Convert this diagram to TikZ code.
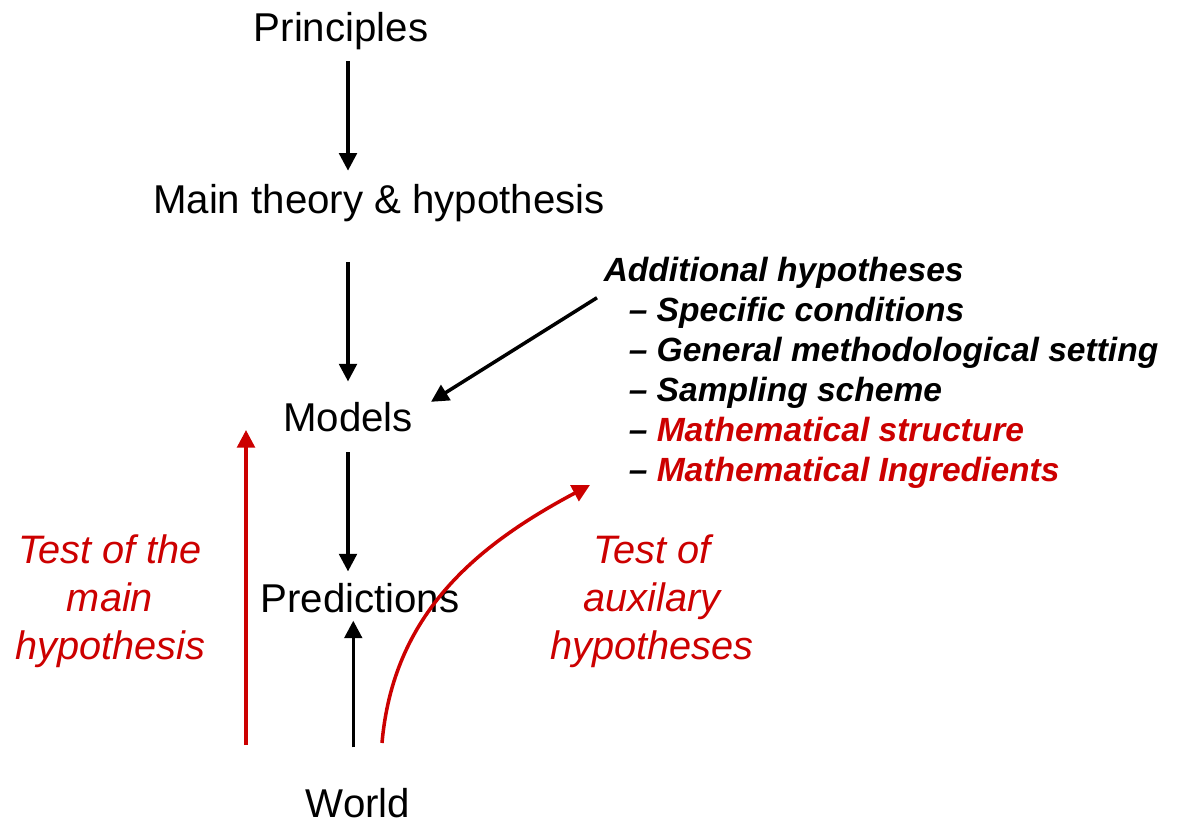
\documentclass[tikz,border=0pt]{standalone}
\usepackage{fontspec}
\setmainfont{Liberation Sans}
\usetikzlibrary{arrows.meta}
\definecolor{testred}{RGB}{204,0,0}
\tikzset{>/.tip={Triangle[length=10pt,width=10pt]}}

\begin{document}
\begin{tikzpicture}[x=0.02cm,y=-0.02cm,line width=2pt,
  every node/.style={inner sep=0pt},
  big/.style={font=\fontsize{22.9}{27}\selectfont,anchor=base},
  hyp/.style={font=\fontsize{19.1}{23}\selectfont\bfseries\itshape,anchor=base west},
  testlbl/.style={font=\fontsize{22.6}{27.3}\selectfont\itshape,text=testred,align=center,anchor=center}]
\useasboundingbox (0,0) rectangle (1177,823);

\node[big] (principles) at (341,41) {Principles};
\node[big] (main) at (379,213) {Main theory \& hypothesis};
\node[big] (models) at (348,431) {Models};
\node[big] (predictions) at (360,612) {Predictions};
\node[big] (world) at (358,817) {World};

\node[hyp] (addhyp) at (602,281) {Additional hypotheses};
\node[hyp] (cond) at (627,321) {-- Specific conditions};
\node[hyp] (setting) at (627,361) {-- General methodological setting};
\node[hyp] (sampling) at (627,401) {-- Sampling scheme};
\node[hyp] (structure) at (627,441) {-- \textcolor{testred}{Mathematical structure}};
\node[hyp] (ingred) at (627,481) {-- \textcolor{testred}{Mathematical Ingredients}};

\node[testlbl] (testmain) at (110,601) {Test of the\\main\\hypothesis};
\node[testlbl] (testaux) at (652,601) {Test of\\auxilary\\hypotheses};

\coordinate (mainlow) at (246,745);
\coordinate (mainhigh) at (246,430);
\coordinate (auxlow) at (382,743);
\coordinate (auxhigh) at (590,485);

\path[->] (models |- principles.south) edge [shorten <=5.7pt, shorten >=6.5pt] (models |- main.north);
\path[->] (models |- main.south) edge [shorten <=22pt, shorten >=10.6pt] (models.north);
\path[->] ([shift={(-5,8)}]addhyp.south west) edge [shorten >=11pt] ([shift={(0,12)}]models.north east);
\path[->] (models.south) edge [shorten <=10.8pt, shorten >=5.5pt] (predictions.north -| models);
\path[->] ([xshift=3pt]world.north -| models) edge [shorten <=22pt, shorten >=3.7pt] ([xshift=3pt]predictions.south -| models);
\path[->,testred] (mainlow) edge (mainhigh);
\path[->,testred] (auxlow) edge [out=85, in=208] (auxhigh);
\end{tikzpicture}
\end{document}
